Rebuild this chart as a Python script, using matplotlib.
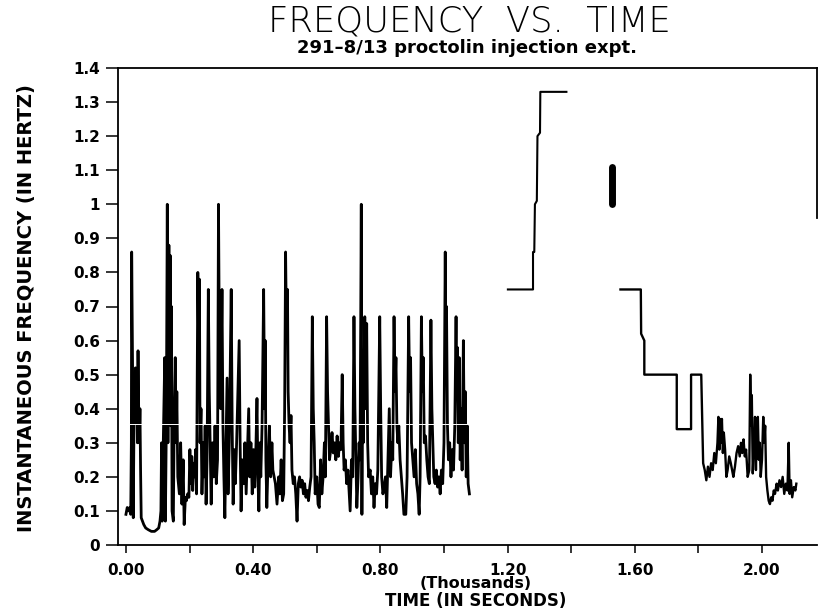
import numpy as np
import matplotlib
matplotlib.use("Agg")
import matplotlib.pyplot as plt
from matplotlib.ticker import FixedLocator, FuncFormatter

# ---- data (time in thousands of seconds, freq in Hz) ----

# dense spike train, 0 .. ~1.08
t_burst = [
    0.000, 0.004, 0.008, 0.012, 0.015, 0.017, 0.018, 0.021, 0.023, 0.026,
    0.028, 0.030, 0.032, 0.034, 0.036, 0.038, 0.040, 0.042, 0.044, 0.046,
    0.048, 0.052, 0.056, 0.062, 0.070, 0.080, 0.090, 0.097, 0.103, 0.107,
    0.110, 0.112, 0.114, 0.117, 0.122, 0.124, 0.127, 0.130, 0.132, 0.135,
    0.137, 0.139, 0.141, 0.143, 0.145, 0.149, 0.152, 0.155, 0.158, 0.160,
    0.163, 0.168, 0.172, 0.176, 0.180, 0.183, 0.187, 0.190, 0.194, 0.198,
    0.201, 0.204, 0.207, 0.210, 0.213, 0.216, 0.219, 0.222, 0.226, 0.229,
    0.231, 0.233, 0.236, 0.239, 0.243, 0.246, 0.249, 0.252, 0.255, 0.259,
    0.262, 0.268, 0.272, 0.276, 0.280, 0.284, 0.288, 0.291, 0.294, 0.298,
    0.302, 0.305, 0.308, 0.311, 0.314, 0.318, 0.321, 0.325, 0.331, 0.334,
    0.337, 0.341, 0.344, 0.348, 0.356, 0.359, 0.362, 0.366, 0.370, 0.374,
    0.378, 0.382, 0.386, 0.389, 0.393, 0.397, 0.401, 0.405, 0.409, 0.412,
    0.415, 0.418, 0.421, 0.424, 0.428, 0.433, 0.436, 0.438, 0.440, 0.443,
    0.447, 0.451, 0.455, 0.459, 0.462, 0.470, 0.475, 0.480, 0.484, 0.488,
    0.492, 0.496, 0.499, 0.502, 0.505, 0.508, 0.510, 0.513, 0.516, 0.519,
    0.522, 0.526, 0.530, 0.534, 0.538, 0.542, 0.546, 0.550, 0.554, 0.558,
    0.562, 0.566, 0.570, 0.574, 0.578, 0.582, 0.586, 0.589, 0.592, 0.595,
    0.600, 0.604, 0.608, 0.612, 0.616, 0.620, 0.624, 0.627, 0.631, 0.634,
    0.637, 0.640, 0.644, 0.648, 0.652, 0.656, 0.660, 0.664, 0.668, 0.672,
    0.676, 0.680, 0.683, 0.686, 0.690, 0.694, 0.698, 0.705, 0.709, 0.713,
    0.717, 0.720, 0.723, 0.726, 0.730, 0.733, 0.736, 0.740, 0.742, 0.744,
    0.746, 0.751, 0.754, 0.757, 0.760, 0.763, 0.768, 0.772, 0.776, 0.780,
    0.784, 0.788, 0.792, 0.798, 0.801, 0.804, 0.808, 0.812, 0.816, 0.820,
    0.824, 0.828, 0.832, 0.836, 0.839, 0.843, 0.846, 0.849, 0.852, 0.855,
    0.858, 0.862, 0.866, 0.870, 0.874, 0.880, 0.884, 0.889, 0.892, 0.895,
    0.898, 0.902, 0.906, 0.910, 0.914, 0.918, 0.922, 0.925, 0.929, 0.932,
    0.935, 0.938, 0.942, 0.946, 0.950, 0.954, 0.959, 0.962, 0.965, 0.968,
    0.972, 0.976, 0.980, 0.984, 0.988, 0.992, 0.996, 1.000, 1.004, 1.006,
    1.008, 1.011, 1.014, 1.018, 1.022, 1.026, 1.030, 1.034, 1.038, 1.040,
    1.042, 1.045, 1.048, 1.051, 1.054, 1.057, 1.061, 1.064, 1.067, 1.070,
    1.073, 1.076, 1.080,
]
f_burst = [
    0.09, 0.11, 0.10, 0.11, 0.09, 0.30, 0.86, 0.50, 0.08, 0.45,
    0.38, 0.52, 0.36, 0.48, 0.30, 0.57, 0.40, 0.30, 0.40, 0.22,
    0.08, 0.07, 0.06, 0.05, 0.045, 0.04, 0.04, 0.045, 0.05, 0.07,
    0.10, 0.30, 0.07, 0.28, 0.55, 0.07, 0.35, 1.00, 0.30, 0.88,
    0.45, 0.85, 0.35, 0.70, 0.10, 0.07, 0.40, 0.55, 0.30, 0.45,
    0.20, 0.15, 0.30, 0.12, 0.25, 0.06, 0.14, 0.13, 0.15, 0.14,
    0.28, 0.18, 0.26, 0.16, 0.24, 0.20, 0.28, 0.15, 0.80, 0.55,
    0.78, 0.30, 0.40, 0.15, 0.30, 0.20, 0.35, 0.12, 0.25, 0.75,
    0.45, 0.12, 0.30, 0.20, 0.35, 0.18, 0.25, 1.00, 0.55, 0.40,
    0.75, 0.35, 0.20, 0.08, 0.25, 0.49, 0.15, 0.30, 0.75, 0.35,
    0.12, 0.28, 0.18, 0.30, 0.60, 0.30, 0.10, 0.25, 0.18, 0.30,
    0.15, 0.28, 0.40, 0.20, 0.30, 0.15, 0.28, 0.17, 0.30, 0.43,
    0.20, 0.10, 0.30, 0.20, 0.35, 0.75, 0.40, 0.60, 0.25, 0.11,
    0.25, 0.35, 0.20, 0.30, 0.22, 0.18, 0.12, 0.20, 0.15, 0.25,
    0.13, 0.15, 0.40, 0.86, 0.60, 0.75, 0.45, 0.35, 0.30, 0.38,
    0.22, 0.18, 0.20, 0.15, 0.07, 0.18, 0.20, 0.17, 0.19, 0.15,
    0.18, 0.14, 0.16, 0.13, 0.17, 0.20, 0.67, 0.40, 0.30, 0.15,
    0.20, 0.12, 0.11, 0.25, 0.15, 0.20, 0.30, 0.20, 0.67, 0.45,
    0.35, 0.25, 0.28, 0.33, 0.27, 0.30, 0.25, 0.32, 0.26, 0.30,
    0.28, 0.50, 0.30, 0.22, 0.25, 0.18, 0.22, 0.10, 0.25, 0.20,
    0.67, 0.40, 0.25, 0.11, 0.20, 0.30, 0.25, 1.00, 0.09, 0.55,
    0.30, 0.67, 0.40, 0.65, 0.30, 0.20, 0.22, 0.15, 0.20, 0.11,
    0.18, 0.15, 0.22, 0.67, 0.40, 0.20, 0.15, 0.17, 0.20, 0.11,
    0.25, 0.40, 0.20, 0.30, 0.25, 0.67, 0.45, 0.55, 0.35, 0.30,
    0.35, 0.25, 0.20, 0.15, 0.09, 0.09, 0.20, 0.67, 0.45, 0.55,
    0.30, 0.25, 0.20, 0.28, 0.18, 0.15, 0.09, 0.20, 0.67, 0.45,
    0.55, 0.30, 0.32, 0.25, 0.20, 0.18, 0.66, 0.40, 0.30, 0.20,
    0.18, 0.22, 0.17, 0.20, 0.15, 0.22, 0.18, 0.30, 0.86, 0.50,
    0.70, 0.35, 0.25, 0.30, 0.20, 0.28, 0.22, 0.35, 0.67, 0.45,
    0.58, 0.30, 0.55, 0.25, 0.40, 0.22, 0.60, 0.30, 0.45, 0.20,
    0.35, 0.18, 0.15,
]

# staircase climb after the gap
t_climb = [1.201, 1.280, 1.280, 1.284, 1.286, 1.292, 1.294, 1.302, 1.303, 1.385]
f_climb = [0.75, 0.75, 0.86, 0.86, 1.00, 1.01, 1.20, 1.21, 1.33, 1.33]

# short dense blob near 1.53
t_blob = [1.527, 1.527]
f_blob = [1.00, 1.11]

# staircase decline and noisy tail
t_tail = [
    1.555, 1.619, 1.620, 1.630, 1.630, 1.732, 1.732, 1.777, 1.777, 1.809,
    1.815, 1.820, 1.825, 1.830, 1.835, 1.840, 1.845, 1.850, 1.855, 1.860,
    1.863, 1.866, 1.868, 1.871, 1.874, 1.877, 1.880, 1.884, 1.888, 1.892,
    1.897, 1.902, 1.906, 1.910, 1.915, 1.920, 1.925, 1.930, 1.934, 1.938,
    1.942, 1.946, 1.950, 1.955, 1.960, 1.963, 1.966, 1.968, 1.971, 1.975,
    1.978, 1.981, 1.984, 1.987, 1.990, 1.993, 1.996, 2.000, 2.004, 2.007,
    2.010, 2.013, 2.017, 2.021, 2.025, 2.029, 2.033, 2.037, 2.041, 2.046,
    2.050, 2.055, 2.060, 2.065, 2.070, 2.075, 2.080, 2.084, 2.087, 2.091,
    2.095, 2.100, 2.105, 2.108,
]
f_tail = [
    0.75, 0.75, 0.62, 0.60, 0.50, 0.50, 0.34, 0.34, 0.50, 0.50,
    0.24, 0.22, 0.19, 0.23, 0.20, 0.24, 0.22, 0.27, 0.24, 0.30,
    0.376, 0.28, 0.37, 0.30, 0.37, 0.27, 0.33, 0.28, 0.20, 0.22,
    0.26, 0.24, 0.22, 0.20, 0.23, 0.27, 0.29, 0.26, 0.30, 0.27,
    0.31, 0.26, 0.28, 0.20, 0.22, 0.50, 0.35, 0.44, 0.21, 0.30,
    0.376, 0.22, 0.35, 0.376, 0.25, 0.30, 0.20, 0.25, 0.376, 0.30,
    0.35, 0.20, 0.16, 0.13, 0.12, 0.14, 0.13, 0.16, 0.15, 0.18,
    0.16, 0.19, 0.17, 0.20, 0.15, 0.18, 0.16, 0.30, 0.15, 0.19,
    0.14, 0.17, 0.16, 0.18,
]

x_ticks = [0.0, 0.2, 0.4, 0.6, 0.8, 1.0, 1.2, 1.4, 1.6, 1.8, 2.0]
y_ticks = [0.0, 0.1, 0.2, 0.3, 0.4, 0.5, 0.6, 0.7, 0.8, 0.9, 1.0, 1.1, 1.2, 1.3, 1.4]

W, H = 818, 614
fig = plt.figure(figsize=(W / 100, H / 100), dpi=100)
ax = fig.add_axes([118 / W, 1 - 545 / H, (817 - 118) / W, (545 - 68) / H])

ax.plot(t_burst, f_burst, color="black", lw=2.0)
ax.plot(t_climb, f_climb, color="black", lw=1.5)
ax.plot(t_blob, f_blob, color="black", lw=5, solid_capstyle="round")
ax.plot(t_tail, f_tail, color="black", lw=1.7)
# scanner dropout line across the dense part
ax.hlines(0.355, 0.0, 1.09, color="white", lw=0.7, zorder=4)

ax.set_xlim(-0.025, 2.173)
ax.set_ylim(0, 1.4)

ax.xaxis.set_major_locator(FixedLocator(x_ticks))
ax.xaxis.set_major_formatter(FuncFormatter(
    lambda v, p: f"{v:.2f}" if round(v / 0.2) % 2 == 0 else ""))
ax.yaxis.set_major_locator(FixedLocator(y_ticks))
ax.yaxis.set_major_formatter(FuncFormatter(lambda v, p: f"{round(v, 1):g}"))

ax.tick_params(axis="y", direction="out", length=9, width=1.1, pad=4,
               labelsize=11)
ax.tick_params(axis="x", direction="out", length=6, width=1.1, pad=7,
               labelsize=11)
for lab in ax.get_xticklabels() + ax.get_yticklabels():
    lab.set_fontweight("bold")

for s in ax.spines.values():
    s.set_linewidth(1.3)
ax.spines["right"].set_bounds(0.96, 1.4)

fig.text(469 / W, 1 - 22 / H, "FREQUENCY  VS.  TIME", ha="center", va="center",
         fontsize=25.5, fontweight="light")
fig.text(467 / W, 1 - 48 / H, "291–8/13 proctolin injection expt.",
         ha="center", va="center", fontsize=13, fontweight="bold")
fig.text(27 / W, 1 - 308 / H, "INSTANTANEOUS FREQUENCY (IN HERTZ)",
         rotation=90, ha="center", va="center", fontsize=14, fontweight="bold")
fig.text(476 / W, 1 - 584 / H, "(Thousands)", ha="center", va="center",
         fontsize=11.5, fontweight="bold")
fig.text(476 / W, 1 - 601 / H, "TIME (IN SECONDS)", ha="center", va="center",
         fontsize=12, fontweight="bold")

fig.savefig("out.png", dpi=100)
